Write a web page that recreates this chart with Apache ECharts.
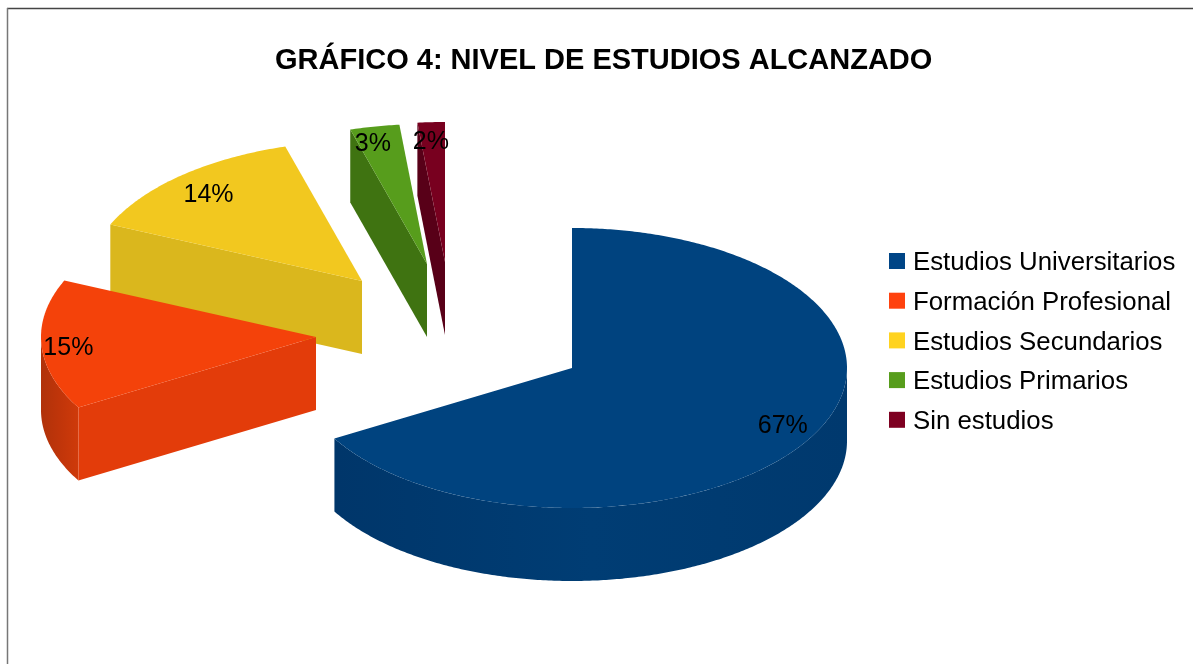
<!DOCTYPE html>
<html>
<head>
<meta charset="utf-8">
<title>Nivel de estudios alcanzado</title>
<script src="https://cdn.jsdelivr.net/npm/echarts@6/dist/echarts.min.js"></script>
<style>
    html, body { margin: 0; padding: 0; background: #fff; }
    #chart { width: 1193px; height: 664px; }
</style>
</head>
<body>
<div id="chart"></div>
<script>
const TITLE = 'GRÁFICO 4: NIVEL DE ESTUDIOS ALCANZADO';
const CATEGORIES = ['Estudios Universitarios', 'Formación Profesional', 'Estudios Secundarios', 'Estudios Primarios', 'Sin estudios'];
const VALUES = [66.6, 15, 13.9, 2.9, 1.6];

const LEGEND_COLORS = ['#004586', '#ff420e', '#ffd320', '#579d1c', '#7e0021'];
const TOP_COLORS = ['#00437f', '#f4420a', '#f2c81f', '#579d1c', '#78001f'];
const WALL_COLORS = ['#003d74', '#e33c0a', '#dab71d', '#3f7311', '#580018'];
const ARC_COLORS = [['#00366a', '#003d74', '#00396e'], ['#b0320a', '#c0350a', '#cf3a0a'], ['#dab71d', '#dab71d', '#dab71d'], ['#3f7311', '#3f7311', '#3f7311'], ['#580018', '#580018', '#580018']];

// pie layout: ellipse radii, thickness, centre and how far each slice is pulled out
const CENTER = [572, 368];
const RX = 275;
const RY = 140;
const DEPTH = 73;
const EXPLODE = [[0, 0], [-256, -31], [-210, -87], [-145, -104], [-127, -106]];
const LABEL_RADIUS = 0.88;
const LABEL_NUDGE = [[1, -3], [-6, 4], [6, 7], [-8, 1], [-2, 3]];

const TOTAL = VALUES.reduce((a, b) => a + b, 0);
const rad = v => v / TOTAL * Math.PI * 2;

// angles run clockwise from 12 o'clock
const onRim = (c, a, dy = 0) => [c[0] + RX * Math.sin(a), c[1] - RY * Math.cos(a) + dy];

const arcPoints = (c, from, to, dy = 0) => {
    const pts = [];
    const steps = Math.max(2, Math.ceil((to - from) / 0.01));
    for (let i = 0; i <= steps; i++) {
        pts.push(onRim(c, from + (to - from) * i / steps, dy));
    }
    return pts;
};

const renderSlice = (params, api) => {
    const i = params.seriesIndex;
    const start = rad(VALUES.slice(0, i).reduce((a, b) => a + b, 0));
    const end = start + rad(api.value(0));
    const mid = (start + end) / 2;
    const c = [CENTER[0] + EXPLODE[i][0], CENTER[1] + EXPLODE[i][1]];
    const children = [];

    // outer rim, only the front half can be seen
    const rimFrom = Math.max(start, Math.PI / 2);
    const rimTo = Math.min(end, Math.PI * 3 / 2);
    if (rimFrom < rimTo) {
        children.push({
            type: 'polygon',
            shape: { points: arcPoints(c, rimFrom, rimTo).concat(arcPoints(c, rimFrom, rimTo, DEPTH).reverse()) },
            style: {
                fill: new echarts.graphic.LinearGradient(0, 0, 1, 0, [
                    { offset: 0, color: ARC_COLORS[i][0] },
                    { offset: 0.5, color: ARC_COLORS[i][1] },
                    { offset: 1, color: ARC_COLORS[i][2] }
                ])
            }
        });
    }

    // cut face along the first radius, facing the viewer for the left hand slices
    if (start > Math.PI) {
        const rim = onRim(c, start);
        children.push({
            type: 'polygon',
            shape: { points: [c, rim, [rim[0], rim[1] + DEPTH], [c[0], c[1] + DEPTH]] },
            style: { fill: WALL_COLORS[i] }
        });
    }

    children.push({
        type: 'polygon',
        shape: { points: [c].concat(arcPoints(c, start, end)) },
        style: { fill: TOP_COLORS[i] }
    });

    const labelPos = [
        c[0] + RX * LABEL_RADIUS * Math.sin(mid) + LABEL_NUDGE[i][0],
        c[1] - RY * LABEL_RADIUS * Math.cos(mid) + LABEL_NUDGE[i][1]
    ];
    children.push({
        type: 'text',
        z2: 10,
        style: {
            text: Math.round(api.value(0)) + '%',
            x: labelPos[0],
            y: labelPos[1],
            align: 'center',
            verticalAlign: 'middle',
            fill: '#000',
            font: '25px "Liberation Sans"'
        }
    });

    return { type: 'group', children };
};

const chart = echarts.init(document.getElementById('chart'));
chart.setOption({
    animation: false,
    backgroundColor: '#fff',
    title: {
        text: TITLE,
        left: 275,
        top: 46,
        padding: 0,
        textStyle: { color: '#000', fontFamily: 'Liberation Sans', fontWeight: 'bold', fontSize: 29 }
    },
    legend: {
        data: CATEGORIES,
        orient: 'vertical',
        left: 889,
        top: 250,
        padding: 0,
        icon: 'rect',
        itemWidth: 16,
        itemHeight: 16,
        itemGap: 13.7,
        selectedMode: false,
        formatter: '{t|{name}}',
        textStyle: {
            rich: {
                t: { color: '#000', fontFamily: 'Liberation Sans', fontSize: 25.8, padding: [4, 0, 0, 3] }
            }
        }
    },
    graphic: [
        {
            type: 'line',
            silent: true,
            shape: { x1: 7, y1: 8.5, x2: 1193, y2: 8.5 },
            style: { stroke: '#444', lineWidth: 1.5 }
        },
        {
            type: 'line',
            silent: true,
            shape: { x1: 7.5, y1: 8, x2: 7.5, y2: 664 },
            style: { stroke: '#777', lineWidth: 1.5 }
        }
    ],
    series: CATEGORIES.map((name, i) => ({
        name,
        type: 'custom',
        coordinateSystem: 'none',
        z: CATEGORIES.length - i + 2,
        itemStyle: { color: LEGEND_COLORS[i] },
        renderItem: renderSlice,
        data: [[VALUES[i]]]
    }))
});
</script>
</body>
</html>
